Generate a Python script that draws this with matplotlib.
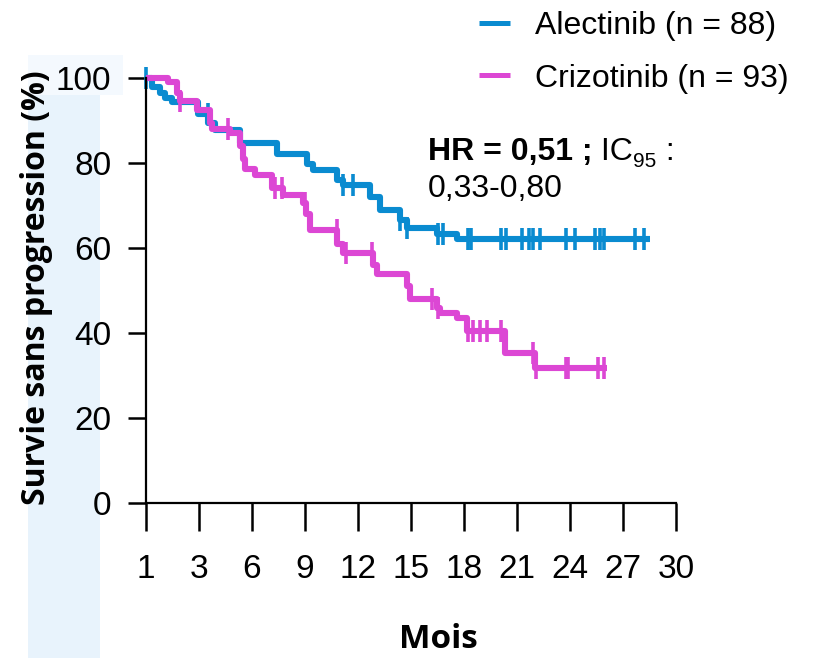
import numpy as np
import matplotlib.pyplot as plt
from matplotlib.patches import Rectangle

# courbes de Kaplan-Meier (mois, survie %)
alec_t = [0.34, 0.79, 1.08, 1.47, 2.94, 3.51, 3.91, 5.32, 7.42, 9.11, 9.45,
          10.81, 11.15, 12.68, 13.25, 14.38, 14.77, 16.47, 17.60]
alec_s = [97.9, 96.5, 95.3, 94.4, 91.5, 89.5, 87.8, 84.7, 82.2, 79.8, 78.4,
          76.0, 74.8, 72.0, 69.0, 66.5, 64.7, 63.2, 62.1]
alec_end = 28.5
alec_cens = [0.0, 3.5, 11.15, 11.7, 14.4, 14.8, 16.5, 16.8, 18.2, 18.4, 20.1,
             20.4, 21.3, 21.7, 21.9, 22.3, 23.8, 24.3, 25.4, 25.7, 25.9, 27.7, 28.2]

criz_t = [1.25, 1.75, 1.92, 2.89, 3.62, 3.74, 4.75, 5.32, 5.49, 5.60, 6.17,
          7.13, 7.75, 8.89, 9.06, 9.28, 10.81, 11.15, 12.85, 13.07, 14.77,
          14.94, 16.47, 16.64, 17.60, 18.17, 20.32, 22.02]
criz_s = [99.0, 96.5, 94.5, 92.5, 89.5, 88.0, 87.0, 84.0, 81.0, 78.5, 77.2,
          74.2, 72.5, 70.5, 68.0, 64.2, 61.0, 58.8, 56.0, 54.0, 51.0,
          48.0, 46.0, 44.7, 43.5, 40.5, 35.3, 31.8]
criz_end = 26.1
criz_cens = [1.92, 4.64, 7.3, 7.7, 9.0, 10.8, 11.3, 12.8, 16.2, 16.5, 18.2,
             18.5, 18.9, 19.3, 20.1, 21.9, 22.1, 23.8, 23.9, 25.6, 25.9]

xticks = [0, 3, 6, 9, 12, 15, 18, 21, 24, 27, 30]
xtick_labels = ["1", "3", "6", "9", "12", "15", "18", "21", "24", "27", "30"]
yticks = [0, 20, 40, 60, 80, 100]

BLUE = "#0a8bd0"
MAGENTA = "#dc47d4"

plt.rcParams['font.family'] = ['Liberation Sans', 'DejaVu Sans']

fig = plt.figure(figsize=(8.14, 6.58), dpi=100)

# bande bleu clair derrière le titre de l'axe y
fig.patches.append(Rectangle((28 / 814, 0), 72 / 814, 1 - 62 / 658,
                             transform=fig.transFigure, facecolor="#e8f3fc",
                             edgecolor="none", zorder=-5))
fig.patches.append(Rectangle((28 / 814, 1 - 95 / 658), 95 / 814, 40 / 658,
                             transform=fig.transFigure, facecolor="#f4f9fe",
                             edgecolor="none", zorder=-5))

ax = fig.add_axes([146 / 814, 155 / 658, 530 / 814, 425 / 658])
ax.patch.set_alpha(0)
ax.set_zorder(2)


def km_arrays(t, s, end):
    times = np.array([0.0] + list(t) + [end])
    surv = np.array([100.0] + list(s) + [s[-1]])
    return times, surv


def censor_y(times, surv, cens):
    idx = np.searchsorted(times, cens, side="right") - 1
    return surv[idx]


for t, s, end, cens, col, lab in [
        (alec_t, alec_s, alec_end, alec_cens, BLUE, "Alectinib (n = 88)"),
        (criz_t, criz_s, criz_end, criz_cens, MAGENTA, "Crizotinib (n = 93)")]:
    times, surv = km_arrays(t, s, end)
    ax.step(times, surv, where="post", color=col, lw=4.4, label=lab,
            solid_capstyle="butt", clip_on=False)
    ax.plot(cens, censor_y(times, surv, np.array(cens)), ls="none",
            marker="|", ms=16, mew=2.6, color=col, clip_on=False)

ax.set_xlim(0, 30)
ax.set_ylim(0, 100)
ax.set_xticks(xticks)
ax.set_xticklabels(xtick_labels)
ax.set_yticks(yticks)
for side in ["top", "right"]:
    ax.spines[side].set_visible(False)
for side in ["left", "bottom"]:
    ax.spines[side].set_linewidth(1.6)
ax.tick_params(axis="x", direction="out", length=20, width=1.8,
               labelsize=24, pad=17)
ax.tick_params(axis="y", direction="out", length=13, width=1.8,
               labelsize=24, pad=12)

fig.text(37 / 814, 1 - 288 / 658, "Survie sans progression (%)",
         rotation=90, ha="center", va="center", fontsize=23,
         fontweight="bold", family="Open Sans")
fig.text(438 / 814, 1 - 640 / 658, "Mois", ha="center", va="center",
         fontsize=24, fontweight="bold", family="Open Sans")

leg = ax.legend(loc="upper left", bbox_to_anchor=(460 / 814, 1 + 8 / 658),
                bbox_transform=fig.transFigure, frameon=False, fontsize=23,
                handlelength=0.95, handletextpad=0.8, labelspacing=0.7,
                borderpad=0.1)
for h in leg.get_lines():
    h.set_linewidth(3.6)

# annotation HR
renderer = fig.canvas.get_renderer()
x0 = 428 / 814
yb = 1 - 160 / 658
t1 = fig.text(x0, yb, "HR = 0,51 ;", fontsize=23, fontweight="bold",
              va="baseline")
bb = t1.get_window_extent(renderer)
x1 = bb.x1 / fig.bbox.width
t2 = fig.text(x1, yb, " IC", fontsize=23, va="baseline")
bb = t2.get_window_extent(renderer)
x2 = bb.x1 / fig.bbox.width
t3 = fig.text(x2, yb - 7 / 658, "95", fontsize=15, va="baseline")
bb = t3.get_window_extent(renderer)
x3 = bb.x1 / fig.bbox.width
fig.text(x3, yb, " :", fontsize=23, va="baseline")
fig.text(x0, 1 - 197 / 658, "0,33-0,80", fontsize=23, va="baseline")

fig.savefig("out.png", dpi=100)
